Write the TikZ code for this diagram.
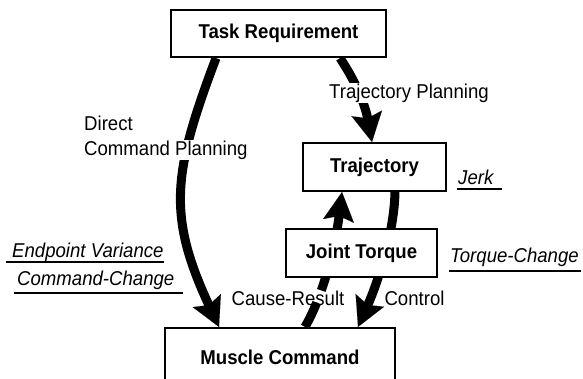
\documentclass[tikz,border=0pt]{standalone}
\usepackage{fontspec}
\setmainfont{Liberation Sans}[FakeStretch=0.93]
\usetikzlibrary{arrows.meta,backgrounds}
\tikzset{
  box/.style={draw, line width=2.2pt, fill=white, inner sep=0pt,
    font=\bfseries\fontsize{20}{24}\selectfont},
  lbl/.style={inner sep=0pt, font=\fontsize{20}{24}\selectfont},
  ilbl/.style={inner sep=0pt, font=\itshape\fontsize{20}{24}\selectfont},
  big/.style={line width=9pt,
    -{Stealth[length=29pt,width=31pt,inset=5pt,line width=0.01pt]}},
  uline/.style={line width=2pt},
}
\begin{document}
\begin{tikzpicture}[x=1pt,y=-1pt]
\useasboundingbox (0,0) rectangle (583,378);
\clip (0,0) rectangle (583,378);
% boxes
\node[box, minimum width=215pt, minimum height=47pt] (task) at (278.5,33.5) {Task Requirement};
\node[box, minimum width=143pt, minimum height=48pt] (traj) at (374.5,167) {Trajectory};
\node[box, minimum width=151pt, minimum height=48pt] (joint) at (361.5,253) {Joint Torque};
\node[box, minimum width=230pt, minimum height=58pt] (muscle) at (280,357) {Muscle Command};
% labels
\node[lbl, anchor=west] (direct) at (84,123) {Direct};
\node[lbl, anchor=west, fill=white, inner sep=1pt] (cmdplan) at (83,150) {Command Planning};
\node[lbl, fill=white, inner sep=1pt] (tplan) at (409,93) {Trajectory Planning};
\node[lbl] (cause) at (288,298) {Cause-Result};
\node[lbl] (control) at (414.5,298) {Control};
\node[ilbl, anchor=west] (jerk) at (458,177) {Jerk};
\node[ilbl, anchor=west] (tchange) at (450,257) {Torque-Change};
\node[ilbl, anchor=west] (endvar) at (12,252) {Endpoint Variance};
\node[ilbl, anchor=west] (cmdchange) at (17,280) {Command-Change};
% underlines
\draw[uline] (457,189) -- (502,189);
\draw[uline] (449,271) -- (581,271);
\draw[uline] (6,262) -- (164,262);
\draw[uline] (14,293) -- (183,293);
% arrows
\begin{pgfonlayer}{background}
\fill[white] (0,0) rectangle (583,378);
\draw[big] ([xshift=-62.5pt]task.south) .. controls +(-43,114) and +(-52,-112) .. ([xshift=-61pt]muscle.north);
\draw[big] ([xshift=61.5pt]task.south) .. controls +(22,33) and +(-5,-27) .. ([xshift=-2.5pt]traj.north);
\draw[big, dash pattern=on 27pt off 13pt on 300pt] ([xshift=25pt]muscle.north) .. controls +(22,-38) and +(-5,41) .. ([xshift=-32.5pt]traj.south);
\draw[big] ([xshift=20.5pt]traj.south) .. controls +(-1,44) and +(17.6,-39.4) .. ([xshift=78pt]muscle.north);
\end{pgfonlayer}
\end{tikzpicture}
\end{document}
